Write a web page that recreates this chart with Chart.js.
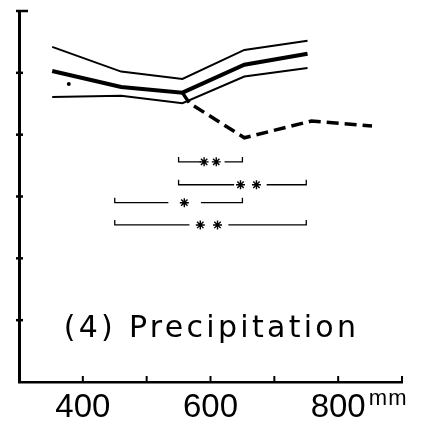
<!DOCTYPE html>
<html>
<head>
<meta charset="utf-8">
<script src="https://cdn.jsdelivr.net/npm/chart.js@4.4.1/dist/chart.umd.min.js"></script>
<style>
  html, body { margin: 0; padding: 0; background: #fff; }
  canvas { display: block; }
</style>
</head>
<body>
<canvas id="chart" width="424" height="426"></canvas>
<script>
// precipitation classes (mm)
const precip = [352, 460, 556, 653, 752];
const upperBand = [5.42, 5.02, 4.90, 5.37, 5.52];
const meanLine = [5.03, 4.77, 4.68, 5.13, 5.31];
const lowerBand = [4.61, 4.63, 4.51, 4.94, 5.08];

// dashed continuation past ~550 mm
const dashPrecip = [556, 567, 653, 758, 853];
const dashValues = [4.68, 4.51, 3.95, 4.22, 4.14];

// the single dot left of the band
const dotPrecip = [378];
const dotValues = [4.82];

// significance brackets
const bracketFrom = [550, 550, 450, 450];
const bracketTo = [650, 750, 650, 750];
const bracketLevel = [3.56, 3.19, 2.90, 2.54];
const bracketGapFrom = [585, 637, 534, 567];
const bracketGapTo = [622, 688, 585, 628];
const bracketStars = [[590, 609], [647, 672], [559], [584, 611]];

// axis ticks
const xTickValues = [400, 500, 600, 700, 800, 900];
const xTickLabels = [400, 600, 800];
const yTickValues = [1, 2, 3, 4, 5, 6];

const pts = (xs, ys) => xs.map((x, i) => ({ x, y: ys[i] }));

function line(data, width, extra) {
  return Object.assign({
    data,
    borderColor: "#000",
    backgroundColor: "#000",
    borderWidth: width,
    pointRadius: 0,
    fill: false,
    tension: 0,
    spanGaps: false
  }, extra || {});
}

const hook = 0.08;
const bracketSets = bracketFrom.map((from, i) => {
  const lvl = bracketLevel[i];
  return line([
    { x: from, y: lvl + hook },
    { x: from, y: lvl },
    { x: bracketGapFrom[i], y: lvl },
    { x: bracketGapFrom[i] + 1, y: null },
    { x: bracketGapTo[i], y: lvl },
    { x: bracketTo[i], y: lvl },
    { x: bracketTo[i], y: lvl + hook }
  ], 1.3);
});

const starPoints = [];
bracketStars.forEach((xs, i) => xs.forEach(x => starPoints.push({ x, y: bracketLevel[i] })));

// ticks drawn inward + the text labels
const decorations = {
  id: "decorations",
  afterDraw(chart) {
    const { ctx, scales: { x, y } } = chart;
    const x0 = x.getPixelForValue(300);
    const y0 = y.getPixelForValue(0);
    ctx.save();
    ctx.strokeStyle = "#000";
    ctx.fillStyle = "#000";

    ctx.lineWidth = 2;
    xTickValues.forEach(v => {
      const px = x.getPixelForValue(v);
      ctx.beginPath();
      ctx.moveTo(px, y0);
      ctx.lineTo(px, y0 - 6);
      ctx.stroke();
    });

    ctx.lineWidth = 2.5;
    yTickValues.forEach(v => {
      const py = y.getPixelForValue(v);
      ctx.beginPath();
      ctx.moveTo(x0 - 3, py);
      ctx.lineTo(x0 + (v === 6 ? 9 : 4), py);
      ctx.stroke();
    });

    ctx.font = "30px 'DejaVu Sans', sans-serif";
    ctx.letterSpacing = "3.3px";
    ctx.textAlign = "left";
    ctx.textBaseline = "alphabetic";
    ctx.fillText("(4) Precipitation", x.getPixelForValue(370), y.getPixelForValue(0.73));

    ctx.font = "22px 'Liberation Sans', Arial, sans-serif";
    ctx.letterSpacing = "1px";
    ctx.fillText("mm", x.getPixelForValue(848), y0 + 23);
    ctx.restore();
  }
};

new Chart(document.getElementById("chart"), {
  type: "line",
  plugins: [decorations],
  data: {
    datasets: [
      line(pts(precip, upperBand), 2),
      line(pts(precip, meanLine), 4),
      line(pts(precip, lowerBand), 2),
      line(pts(dashPrecip, dashValues), 3.5, { borderDash: [12, 6] }),
      line(pts(dotPrecip, dotValues), 0, { showLine: false, pointRadius: 2 }),
      ...bracketSets,
      line(starPoints, 0, {
        showLine: false,
        pointStyle: "star",
        pointRadius: 4.5,
        pointBorderWidth: 1.4
      })
    ]
  },
  options: {
    responsive: false,
    animation: false,
    devicePixelRatio: 1,
    layout: { padding: { top: 11, right: 22, left: 0, bottom: 0 } },
    plugins: {
      legend: { display: false },
      tooltip: { enabled: false }
    },
    scales: {
      x: {
        type: "linear",
        min: 300,
        max: 900,
        grid: { display: false, drawTicks: false },
        border: { display: true, color: "#000", width: 2.5 },
        ticks: {
          stepSize: 100,
          autoSkip: false,
          maxRotation: 0,
          padding: 6,
          color: "#000",
          font: { family: "'Liberation Sans', Arial, sans-serif", size: 33 },
          callback: v => (xTickLabels.includes(v) ? String(v) : "")
        },
        afterFit: s => { s.height = 44; }
      },
      y: {
        min: 0,
        max: 6,
        grid: { display: false, drawTicks: false },
        border: { display: true, color: "#000", width: 3 },
        ticks: { display: false, stepSize: 1 },
        afterFit: s => { s.width = 19; }
      }
    }
  }
});
</script>
</body>
</html>
